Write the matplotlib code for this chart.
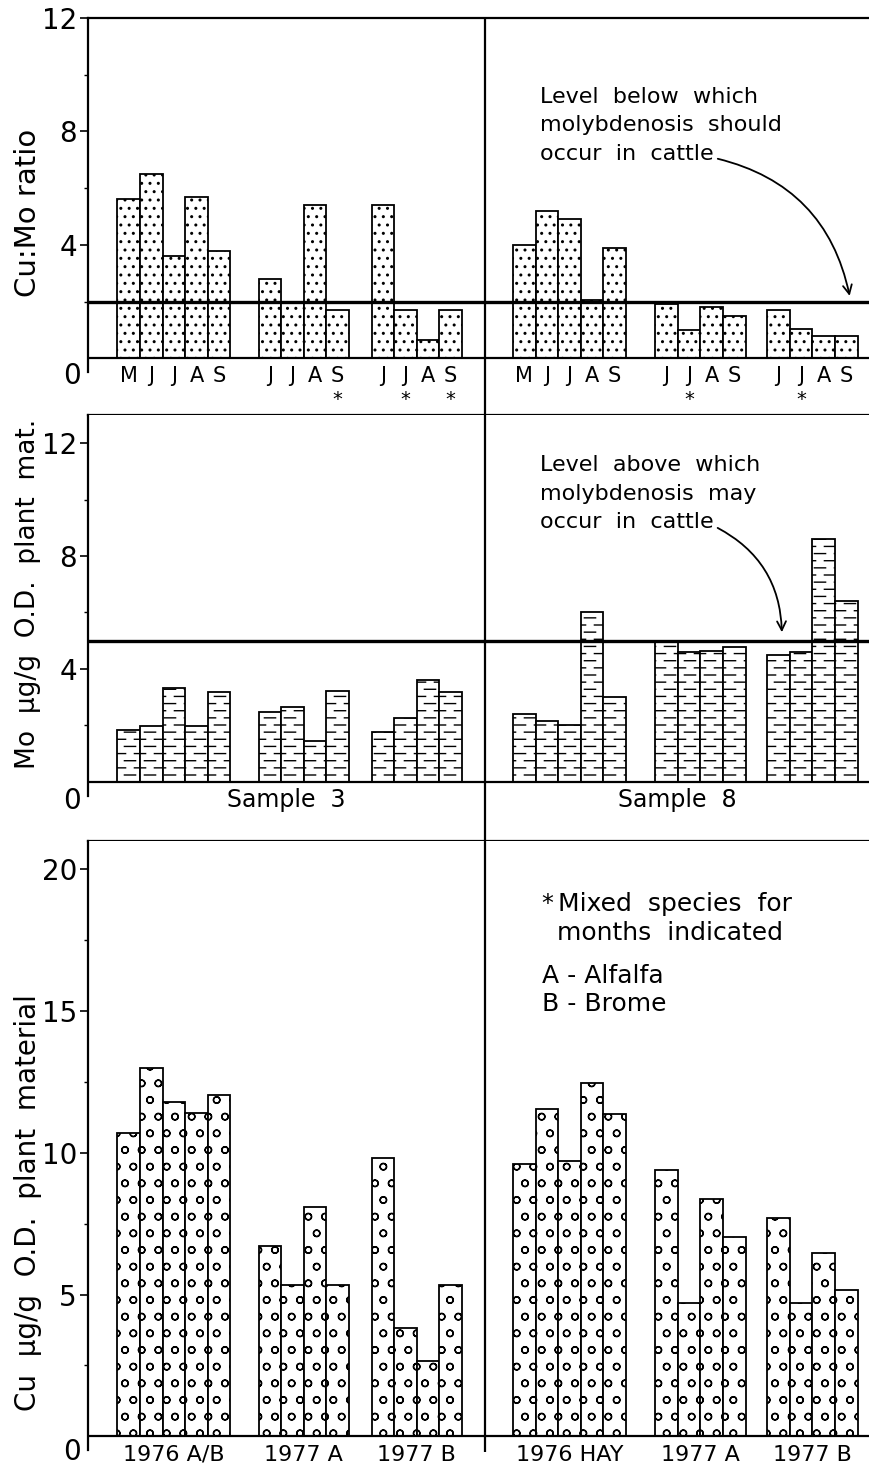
import numpy as np
import matplotlib
matplotlib.use('Agg')
import matplotlib.pyplot as plt
import matplotlib.hatch as mhatch
from matplotlib.path import Path

plt.rcParams['font.family'] = 'DejaVu Sans'
plt.rcParams['hatch.linewidth'] = 1.0

# ---------------- data
# groups 0-2 = sample 3 (left half), groups 3-5 = sample 8 (right half)
months = [['M', 'J', 'J', 'A', 'S'], ['J', 'J', 'A', 'S'], ['J', 'J', 'A', 'S'],
          ['M', 'J', 'J', 'A', 'S'], ['J', 'J', 'A', 'S'], ['J', 'J', 'A', 'S']]
mixed = [[], [3], [1, 3], [], [1], [1]]   # bars marked * (index in group)
group_names = ['1976 A/B', '1977 A', '1977 B', '1976 HAY', '1977 A', '1977 B']
sample_names = ['Sample  3', 'Sample  8']

cumo_ratio = [[5.6, 6.5, 3.6, 5.7, 3.8], [2.8, 2.0, 5.4, 1.7], [5.4, 1.7, 0.65, 1.7],
              [4.0, 5.2, 4.9, 2.05, 3.9], [1.9, 1.0, 1.8, 1.5], [1.7, 1.05, 0.8, 0.8]]
mo = [[1.84, 1.96, 3.31, 1.98, 3.19], [2.47, 2.65, 1.45, 3.2], [1.78, 2.26, 3.6, 3.19],
      [2.4, 2.17, 2.0, 6.02, 3.0], [4.95, 4.6, 4.64, 4.79], [4.48, 4.6, 8.59, 6.41]]
cu = [[10.7, 13.0, 11.8, 11.4, 12.05], [6.7, 5.33, 8.1, 5.33], [9.8, 3.82, 2.65, 5.35],
      [9.6, 11.55, 9.7, 12.46, 11.36], [9.41, 4.69, 8.38, 7.03], [7.69, 4.69, 6.45, 5.16]]
cumo_limit = 2.0
mo_limit = 5.0

# ---------------- layout (x in bar widths)
group_start = [1.3, 7.55, 12.55, 18.8, 25.1, 30.05]
divider = 17.55
xmax = 34.6
half_centre = [divider / 2, (divider + xmax) / 2]


# '-' hatch -> rows of short staggered dashes (brick look of the original)
class DashRows(mhatch.HatchPatternBase):
    def __init__(self, hatch, density):
        self.num_rows = hatch.count('-') * 7
        self.per_row = 5
        self.num_vertices = self.num_rows * (self.per_row + 1) * 2

    def set_vertices_and_codes(self, vertices, codes):
        period = 1.0 / self.per_row
        half = 0.28 * period
        segs = []
        for r in range(self.num_rows):
            y = (r + 0.5) / self.num_rows
            shift = 0.5 * period * (r % 2)
            for c in range(self.per_row + 1):
                xc = c * period + shift
                segs.append([(np.clip(xc - half, 0, 1), y), (np.clip(xc + half, 0, 1), y)])
        vertices[:] = np.array(segs).reshape(-1, 2)
        codes[0::2] = Path.MOVETO
        codes[1::2] = Path.LINETO


mhatch._hatch_types = [DashRows if t is mhatch.HorizontalHatch else t
                       for t in mhatch._hatch_types]


def draw_bars(ax, values, hatch):
    for g, vals in enumerate(values):
        x = group_start[g] + np.arange(len(vals))
        ax.bar(x, vals, width=1, align='edge', color='white', edgecolor='black',
               linewidth=1.3, hatch=hatch, zorder=2)


def setup(ax, ylim, major, minor, zero_off):
    ax.set_xlim(0, xmax)
    ax.set_ylim(*ylim)
    for s in ax.spines.values():
        s.set_linewidth(1.6)
    ax.spines['right'].set_visible(False)
    ax.spines['left'].set_bounds(-0.5, ylim[1])
    ax.set_xticks([])
    ax.set_yticks(major)
    ax.set_yticks(minor, minor=True)
    ax.tick_params(axis='y', which='major', length=6, width=1.2, labelsize=20, pad=2)
    ax.tick_params(axis='y', which='minor', length=3, width=1)
    ax.axhline(0, color='black', lw=1.6, zorder=3)
    ax.annotate('0', xy=(0, 0), xycoords=('axes fraction', 'data'),
                xytext=(-5, zero_off), textcoords='offset points',
                ha='right', va='center', fontsize=20)


fig = plt.figure(figsize=(8.7, 14.72), dpi=100)
L, W = 88 / 870, 782 / 870
ax1 = fig.add_axes([L, 1 - 415 / 1472, W, 397 / 1472])
ax2 = fig.add_axes([L, 1 - 841 / 1472, W, 426 / 1472])
ax3 = fig.add_axes([L, 0, W, 631 / 1472])

# ---- Cu:Mo ratio
setup(ax1, (-2.0, 12), [4, 8, 12], [2, 6, 10], -13)
draw_bars(ax1, cumo_ratio, '..')
ax1.axhline(cumo_limit, color='black', lw=2.4, zorder=4)
ax1.axvline(divider, color='black', lw=1.6, zorder=3)
for g, ms in enumerate(months):
    for i, m in enumerate(ms):
        xc = group_start[g] + i + 0.5
        ax1.text(xc, -0.62, m, ha='center', va='center', fontsize=15)
        if i in mixed[g]:
            ax1.text(xc, -1.45, '*', ha='center', va='center', fontsize=14)
for k, line in enumerate(['Level  below  which', 'molybdenosis  should']):
    ax1.text(20.0, 9.0 - k, line, fontsize=16, va='baseline')
ax1.annotate('occur  in  cattle', xy=(33.7, 2.2), xytext=(20.0, 7.0), fontsize=16,
             va='baseline',
             arrowprops=dict(arrowstyle='->', color='black', lw=1.3, relpos=(1.0, 0.3),
                             connectionstyle='arc3,rad=-0.32', shrinkA=1, shrinkB=0))

# ---- Mo
setup(ax2, (-2.1, 13.0), [4, 8, 12], [2, 6, 10], -14)
ax2.spines['top'].set_visible(False)
draw_bars(ax2, mo, '--')
ax2.axhline(mo_limit, color='black', lw=2.4, zorder=4)
ax2.axvline(divider, color='black', lw=1.6, zorder=3)
for xc, name in zip(half_centre, sample_names):
    ax2.text(xc, -0.65, name, ha='center', va='center', fontsize=17)
for k, line in enumerate(['Level  above  which', 'molybdenosis  may']):
    ax2.text(20.0, 11.0 - k, line, fontsize=16, va='baseline')
ax2.annotate('occur  in  cattle', xy=(30.7, 5.3), xytext=(20.0, 9.0), fontsize=16,
             va='baseline',
             arrowprops=dict(arrowstyle='->', color='black', lw=1.3, relpos=(1.0, 0.3),
                             connectionstyle='arc3,rad=-0.3', shrinkA=1, shrinkB=0))

# ---- Cu
setup(ax3, (-1.26, 21.0), [5, 10, 15, 20], [2.5, 7.5, 12.5, 17.5], -11)
ax3.spines['top'].set_visible(False)
ax3.spines['bottom'].set_visible(False)
draw_bars(ax3, cu, 'o')
ax3.vlines(divider, -0.55, 21.0, color='black', lw=1.6, zorder=3)
for g, name in enumerate(group_names):
    xc = group_start[g] + len(cu[g]) / 2
    ax3.text(xc, -0.66, name, ha='center', va='center', fontsize=16)
ax3.text(20.07, 18.53, '*', fontsize=17, va='baseline')
ax3.text(20.8, 18.53, 'Mixed  species  for', fontsize=18, va='baseline')
ax3.text(20.75, 17.5, 'months  indicated', fontsize=18, va='baseline')
ax3.text(20.07, 16.0, 'A - Alfalfa', fontsize=18, va='baseline')
ax3.text(20.07, 15.0, 'B - Brome', fontsize=18, va='baseline')

# y axis titles
fig.text(28 / 870, 1 - 213 / 1472, 'Cu:Mo ratio', rotation=90, ha='center', va='center', fontsize=21)
fig.text(28 / 870, 1 - 594 / 1472, 'Mo  μg/g  O.D.  plant  mat.', rotation=90, ha='center',
         va='center', fontsize=19)
fig.text(28 / 870, 1 - 1203 / 1472, 'Cu  μg/g  O.D.  plant  material', rotation=90, ha='center',
         va='center', fontsize=20)

fig.savefig('out.png', dpi=100)
